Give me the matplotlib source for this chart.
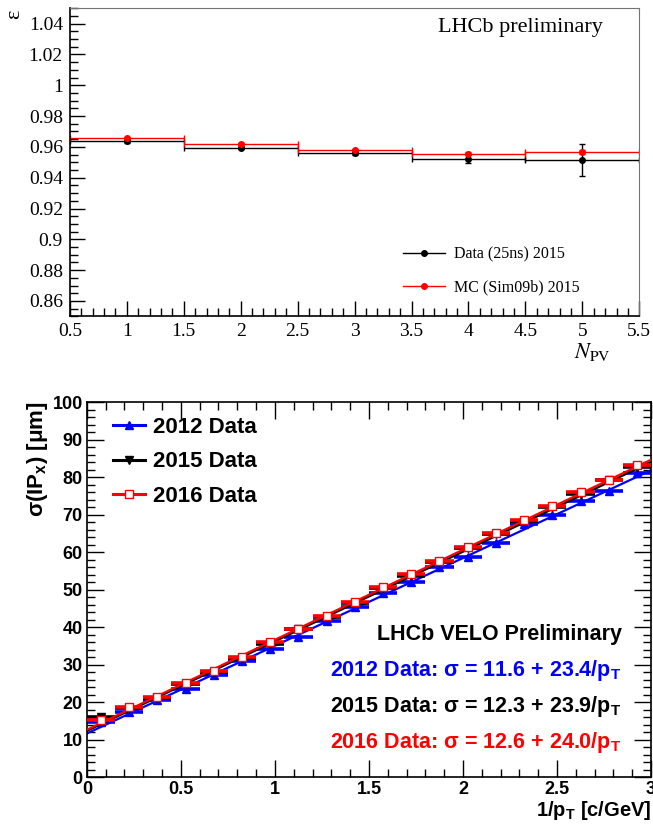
import numpy as np
import matplotlib.pyplot as plt
from matplotlib.ticker import MultipleLocator, FixedLocator, FormatStrFormatter
from matplotlib.lines import Line2D

plt.rcParams['mathtext.fontset'] = 'custom'
plt.rcParams['mathtext.rm'] = 'Liberation Sans:bold'
plt.rcParams['mathtext.it'] = 'Liberation Sans:bold'
plt.rcParams['mathtext.bf'] = 'Liberation Sans:bold'

# ---- top panel data: efficiency vs number of PVs ----
npv = [1, 2, 3, 4, 5]
data_eff = [0.9636, 0.9596, 0.9558, 0.9523, 0.9515]
data_err = [0.0008, 0.0008, 0.0009, 0.0030, 0.0106]
mc_eff = [0.9656, 0.9618, 0.9580, 0.9557, 0.9568]
mc_err = [0.0006, 0.0006, 0.0007, 0.0010, 0.0015]

# ---- bottom panel data: IP resolution vs 1/pT ----
inv_pt = [0.075, 0.225, 0.375, 0.525, 0.675, 0.825, 0.975, 1.125, 1.275, 1.425,
          1.575, 1.725, 1.875, 2.025, 2.175, 2.325, 2.475, 2.625, 2.775, 2.925]
ip_2012 = [14.6, 17.4, 20.6, 23.6, 27.2, 30.9, 34.2, 37.4, 41.6, 45.4,
           49.1, 52.0, 56.0, 58.6, 62.5, 67.6, 69.8, 73.6, 76.4, 81.0]
ip_2015 = [15.9, 18.3, 21.1, 24.8, 28.0, 31.8, 35.6, 39.4, 42.8, 46.4,
           50.3, 53.7, 57.4, 61.1, 64.7, 68.3, 72.0, 75.6, 79.1, 82.6]
ip_2016 = [15.3, 18.6, 21.4, 25.0, 28.3, 32.1, 35.9, 39.6, 43.0, 46.8,
           50.6, 54.1, 57.7, 61.4, 65.0, 68.6, 72.2, 75.9, 79.2, 83.2]
ip_err = [1.0, 0.5, 0.4, 0.3, 0.3, 0.3, 0.3, 0.3, 0.3, 0.3,
          0.3, 0.3, 0.3, 0.3, 0.3, 0.3, 0.3, 0.3, 0.3, 0.3]
fit_2012 = (11.6, 23.4)
fit_2015 = (12.3, 23.9)
fit_2016 = (12.6, 24.0)

fig = plt.figure(figsize=(6.53, 8.26), dpi=100)

# ================= top =================
serif = 'Liberation Serif'
ax1 = fig.add_axes([0.107, 0.617, 0.872, 0.373])
ax1.errorbar(npv, data_eff, yerr=data_err, xerr=0.5, fmt='o', color='black',
             ms=4, lw=1, capsize=2, capthick=1, label='Data (25ns) 2015')
ax1.errorbar(npv, mc_eff, yerr=mc_err, xerr=0.5, fmt='o', color='red',
             ms=4, lw=1, capsize=2, capthick=1, label='MC (Sim09b) 2015')
ax1.set_xlim(0.5, 5.5)
ax1.set_ylim(0.85, 1.05)
ax1.xaxis.set_major_locator(MultipleLocator(0.5))
ax1.xaxis.set_minor_locator(MultipleLocator(0.1))
ax1.yaxis.set_major_locator(FixedLocator(np.arange(0.86, 1.041, 0.02)))
ax1.yaxis.set_minor_locator(MultipleLocator(0.005))
ax1.xaxis.set_major_formatter(FormatStrFormatter('%g'))
ax1.yaxis.set_major_formatter(FormatStrFormatter('%g'))
ax1.tick_params(which='both', direction='in', top=False, right=False)
ax1.tick_params(which='major', length=11, width=1, labelsize=14, pad=5)
ax1.tick_params(which='minor', length=6, width=1)
for lab in ax1.get_xticklabels() + ax1.get_yticklabels():
    lab.set_family(serif)
for s in ['top', 'right']:
    ax1.spines[s].set_color('0.45')
ax1.spines['left'].set_linewidth(1.2)
ax1.spines['bottom'].set_linewidth(1.2)
ax1.text(0.936, 0.938, 'LHCb preliminary', transform=ax1.transAxes, ha='right',
         va='center', fontsize=16, family=serif)
h1 = [Line2D([], [], color='black', marker='o', ms=4, lw=1),
      Line2D([], [], color='red', marker='o', ms=4, lw=1)]
ax1.legend(h1, ['Data (25ns) 2015', 'MC (Sim09b) 2015'], loc='lower left',
           bbox_to_anchor=(0.56, 0.02), frameon=False,
           prop={'family': serif, 'size': 11.5}, handlelength=2.6,
           labelspacing=1.1, handletextpad=0.6)
fig.text(0.022, 0.988, 'ε', rotation=90, ha='center', va='top',
         fontsize=16, family=serif)
fig.text(0.935, 0.574, r'$N_{\rm PV}$', ha='right', va='center', fontsize=16,
         math_fontfamily='stix')

# ================= bottom =================
sans = 'Liberation Sans'
ax2 = fig.add_axes([0.133, 0.0593, 0.864, 0.454])
xx = np.array([0.0, 3.0])
ax2.plot(xx, fit_2012[0] + fit_2012[1] * xx, color='blue', lw=1.6, zorder=2)
ax2.plot(xx, fit_2015[0] + fit_2015[1] * xx, color='black', lw=1.6, zorder=3)
ax2.plot(xx, fit_2016[0] + fit_2016[1] * xx, color='red', lw=1.6, zorder=4)
ax2.errorbar(inv_pt, ip_2012, yerr=ip_err, xerr=0.075, fmt='^', color='blue',
             ms=5.5, elinewidth=2.6, capsize=0, zorder=2)
ax2.errorbar(inv_pt, ip_2015, yerr=ip_err, xerr=0.075, fmt='v', color='black',
             ms=5.5, elinewidth=2.6, capsize=0, zorder=3)
ax2.errorbar(inv_pt, ip_2016, yerr=ip_err, xerr=0.075, fmt='s', color='red',
             mfc='white', mec='red', ms=6, elinewidth=2.6, capsize=0, zorder=4)
ax2.set_xlim(0, 3)
ax2.set_ylim(0, 100)
ax2.xaxis.set_major_locator(MultipleLocator(0.5))
ax2.xaxis.set_minor_locator(MultipleLocator(0.1))
ax2.yaxis.set_major_locator(MultipleLocator(10))
ax2.yaxis.set_minor_locator(MultipleLocator(2))
ax2.xaxis.set_major_formatter(FormatStrFormatter('%g'))
ax2.tick_params(which='both', direction='in', top=True, right=True)
ax2.tick_params(which='major', length=12, width=1, labelsize=13, pad=3)
ax2.tick_params(which='minor', length=6, width=1)
for lab in ax2.get_xticklabels() + ax2.get_yticklabels():
    lab.set_family(sans)
    lab.set_weight('bold')
for s in ax2.spines.values():
    s.set_linewidth(1.2)

h2 = [Line2D([], [], color='blue', marker='^', ms=5.5, lw=2.2),
      Line2D([], [], color='black', marker='v', ms=5.5, lw=2.2),
      Line2D([], [], color='red', marker='s', mfc='white', ms=6, lw=2.2)]
ax2.legend(h2, ['2012 Data', '2015 Data', '2016 Data'], loc='upper left',
           bbox_to_anchor=(0.046, 0.96), frameon=False, borderpad=0,
           borderaxespad=0,
           prop={'family': sans, 'weight': 'bold', 'size': 16},
           handlelength=1.45, labelspacing=0.6, handletextpad=0.35)

tx = 0.948
fs_txt = 15.5
ax2.text(tx, 0.379, 'LHCb VELO Preliminary', transform=ax2.transAxes,
         ha='right', va='center', fontsize=fs_txt, family=sans, weight='bold')
ax2.text(tx, 0.285, r'2012 Data: $\sigma$ = 11.6 + 23.4/p$_\mathrm{T}$',
         transform=ax2.transAxes, ha='right', va='center', fontsize=fs_txt,
         family=sans, weight='bold', color='blue')
ax2.text(tx, 0.187, r'2015 Data: $\sigma$ = 12.3 + 23.9/p$_\mathrm{T}$',
         transform=ax2.transAxes, ha='right', va='center', fontsize=fs_txt,
         family=sans, weight='bold', color='black')
ax2.text(tx, 0.091, r'2016 Data: $\sigma$ = 12.6 + 24.0/p$_\mathrm{T}$',
         transform=ax2.transAxes, ha='right', va='center', fontsize=fs_txt,
         family=sans, weight='bold', color='red')

fig.text(0.058, 0.514, r'$\sigma$(IP$_\mathrm{x}$) [$\mu$m]', rotation=90,
         ha='center', va='top', fontsize=16, family=sans, weight='bold')
fig.text(0.997, 0.019, r'1/p$_\mathrm{T}$ [c/GeV]', ha='right', va='center',
         fontsize=14.5, family=sans, weight='bold')

fig.savefig('out.png', dpi=100)
